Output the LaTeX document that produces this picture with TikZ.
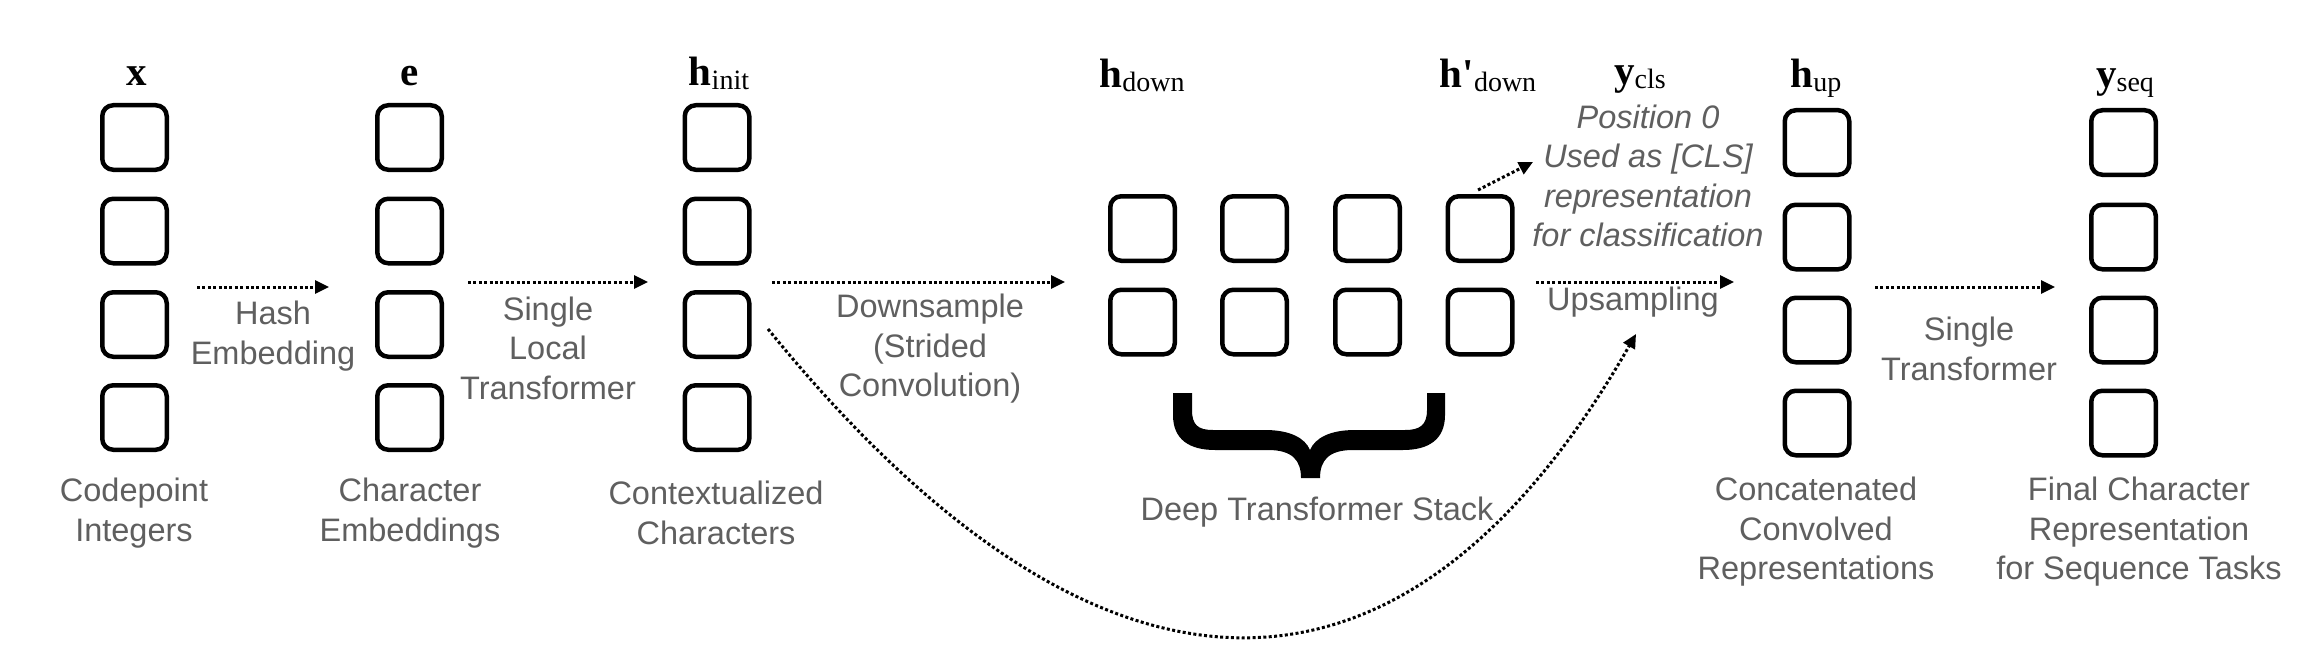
\documentclass[tikz,border=0pt]{standalone}
\usepackage{fontspec}
\setmainfont{Liberation Sans}
\newfontfamily\serf{Liberation Serif}[Ligatures=TeXOff]
\usetikzlibrary{arrows.meta}
\definecolor{txtgray}{RGB}{95,95,95}
\newcommand\mylbl[2]{{\serf\fontsize{41}{41}\selectfont\bfseries #1}{\serf\fontsize{28}{28}\selectfont\raisebox{-4pt}{#2}}}
\begin{document}
\begin{tikzpicture}[x=1pt,y=-1pt,
  cell/.style={draw=black,line width=4.5pt,rounded corners=11pt,minimum width=64.5pt,minimum height=64.5pt,inner sep=0pt},
  flow/.style={line width=3pt,dash pattern=on 3pt off 2.4pt,-{Triangle[length=14pt,width=13pt]}},
  desc/.style={text=txtgray,align=center,font=\fontsize{32.5}{39.5}\selectfont,inner sep=0pt},
  vlabel/.style={anchor=base,inner sep=0pt}
]
\useasboundingbox (0,0) rectangle (2306,658);
\fill[white] (0,0) rectangle (2306,658);

% columns of cells
\foreach \n/\cx in {x/134.5,e/409.5,i/717}{
  \foreach \r/\cy in {1/137.5,2/231,3/324.5,4/417.5}{
    \node[cell] (\n\r) at (\cx,\cy) {};
  }
}
\foreach \n/\cx in {u/1817,s/2123.5}{
  \foreach \r/\cy in {1/142.5,2/237,3/330,4/423}{
    \node[cell] (\n\r) at (\cx,\cy) {};
  }
}
\foreach \c/\cx in {1/1142.5,2/1254.5,3/1367.5,4/1480}{
  \foreach \r/\cy in {1/228.5,2/322}{
    \node[cell] (g\r\c) at (\cx,\cy) {};
  }
}

% top labels
\node[vlabel] (lx) at (137,86) {\mylbl{x}{}};
\node[vlabel] (le) at (410,86) {\mylbl{e}{}};
\node[vlabel] (li) at (719,86) {\mylbl{h}{init}};
\node[vlabel] (ld) at (1142,88) {\mylbl{h}{down}};
\node[vlabel] (ldp) at (1488,88) {\mylbl{h'}{down}};
\node[vlabel] (lc) at (1640,85) {\mylbl{y}{cls}};
\node[vlabel] (lu) at (1816,88) {\mylbl{h}{up}};
\node[vlabel] (ls) at (2125,88) {\mylbl{y}{seq}};

% arrow end points
\coordinate (a1s) at (197,287);  \coordinate (a1e) at (329,287);
\coordinate (a2s) at (468,282);  \coordinate (a2e) at (648,282);
\coordinate (a3s) at (772,282);  \coordinate (a3e) at (1065,282);
\coordinate (a4s) at (1536,282); \coordinate (a4e) at (1734,282);
\coordinate (a5s) at (1875,287); \coordinate (a5e) at (2055,287);
\coordinate (a6s) at (1478,190); \coordinate (a6e) at (1533,162);
\coordinate (cs) at (768,329);   \coordinate (ce) at (1636,334);

\draw[flow] (a1s) -- (a1e);
\draw[flow] (a2s) -- (a2e);
\draw[flow] (a3s) -- (a3e);
\draw[flow] (a4s) -- (a4e);
\draw[flow] (a5s) -- (a5e);
\draw[flow] (a6s) -- (a6e);
\draw[flow] (cs) .. controls (1100,738) and (1405,738) .. (ce);

% arrow labels
\node[desc] (t1) at (273,336) {Hash\\Embedding};
\node[desc] (t2) at (548,348) {Single\\Local\\Transformer};
\node[desc] (t3) at (930,349) {Downsample\\(Strided\\Convolution)};
\node[desc] (t4) at (1633,302) {Upsampling};
\node[desc,font=\fontsize{32.5}{39.5}\selectfont\itshape] (t5) at (1648,176) {Position 0\\Used as [CLS]\\representation\\for classification};
\node[desc] (t6) at (1969,349) {Single\\Transformer};

% bottom labels
\node[desc] (b1) at (134,513) {Codepoint\\Integers};
\node[desc] (b2) at (410,513) {Character\\Embeddings};
\node[desc] (b3) at (716,513) {Contextualized\\Characters};
\node[desc] (b4) at (1317,512) {Deep Transformer Stack};
\node[desc] (b5) at (1816,532) {Concatenated\\Convolved\\Representations};
\node[desc] (b6) at (2139,532) {Final Character\\Representation\\for Sequence Tasks};

% brace
\fill[black] (1173,393) -- (1173,415)
  .. controls (1173,440) and (1190,450) .. (1215,450) -- (1268,450)
  .. controls (1292,450) and (1301,460) .. (1301,478) -- (1320,478)
  .. controls (1320,460) and (1329,450) .. (1353,450) -- (1403,450)
  .. controls (1428,450) and (1445,440) .. (1445,415) -- (1445,393)
  -- (1427,393) -- (1427,410)
  .. controls (1427,425) and (1420,430) .. (1405,430) -- (1355,430)
  .. controls (1330,430) and (1315,438) .. (1310,450)
  .. controls (1305,438) and (1290,430) .. (1265,430) -- (1213,430)
  .. controls (1198,430) and (1192,425) .. (1192,410) -- (1192,393) -- cycle;
\end{tikzpicture}
\end{document}
